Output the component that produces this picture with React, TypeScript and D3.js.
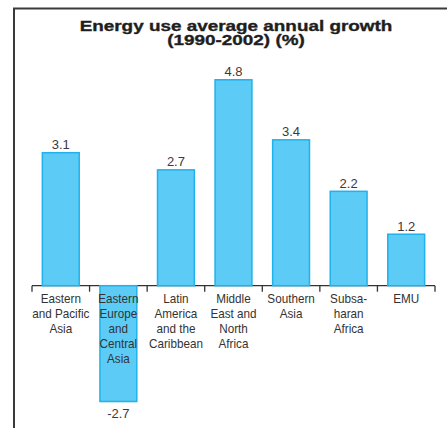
import React from "react";
import * as d3 from "d3";

const categories = [
  ["Eastern", "and Pacific", "Asia"],
  ["Eastern", "Europe", "and", "Central", "Asia"],
  ["Latin", "America", "and the", "Caribbean"],
  ["Middle", "East and", "North", "Africa"],
  ["Southern", "Asia"],
  ["Subsa-", "haran", "Africa"],
  ["EMU"],
];
const values = [3.1, -2.7, 2.7, 4.8, 3.4, 2.2, 1.2];
const valueLabels = ["3.1", "-2.7", "2.7", "4.8", "3.4", "2.2", "1.2"];
const titleLines = ["Energy use average annual growth", "(1990-2002) (%)"];

const W = 448;
const H = 428;
const left = 32;
const right = 435;
const zeroY = 285.7;
const unit = 42.9;

export default function App() {
  const keys = categories.map((_, i) => String(i));
  const x = d3
    .scaleBand<string>()
    .domain(keys)
    .range([left, right])
    .paddingInner(0.36)
    .paddingOuter(0.18);
  const y = d3
    .scaleLinear()
    .domain([-3, 5])
    .range([zeroY + 3 * unit, zeroY - 5 * unit]);
  const step = x.step();
  const y0 = y(0);
  const font = "'Liberation Sans', Arial, Helvetica, sans-serif";
  const tickXs = d3.range(keys.length + 1).map((i) => left + i * step);

  return (
    <svg
      width={W}
      height={H}
      style={{ position: "absolute", left: 0, top: 0, background: "#fff" }}
      fontFamily={font}
    >
      {/* frame */}
      <path d={`M14,${H} L14,8.5 L447,8.5`} fill="none" stroke="#3a3a3a" strokeWidth={2} />

      {/* title, set in a wide heavy face */}
      <g transform="translate(236,0) scale(1.26,1)">
        <text
          textAnchor="middle"
          fontWeight="bold"
          fontSize={15}
          fill="#1e1e1e"
          stroke="#1e1e1e"
          strokeWidth={0.35}
        >
          {titleLines.map((t, i) => (
            <tspan key={i} x={0} y={30.6 + i * 14.5}>
              {t}
            </tspan>
          ))}
        </text>
      </g>

      {/* axis */}
      <line x1={left} x2={right} y1={y0} y2={y0} stroke="#333" strokeWidth={1.3} />
      {tickXs.map((tx, i) => (
        <line key={i} x1={tx} x2={tx} y1={y0} y2={y0 + 6} stroke="#333" strokeWidth={1.3} />
      ))}

      {/* bars */}
      {values.map((v, i) => {
        const bx = x(keys[i])!;
        const top = Math.min(y(v), y0);
        const h = Math.abs(y(v) - y0);
        return (
          <rect
            key={i}
            x={bx}
            y={top}
            width={x.bandwidth()}
            height={h}
            fill="#5ccbf6"
            stroke="#1fb2ec"
            strokeWidth={1.5}
          />
        );
      })}

      {/* value labels */}
      {values.map((v, i) => {
        const cx = x(keys[i])! + x.bandwidth() / 2;
        const ly = v >= 0 ? y(v) - 3.5 : y(v) + 16;
        return (
          <text key={i} x={cx} y={ly} textAnchor="middle" fontSize={13} fill="#3a3a3a">
            {valueLabels[i]}
          </text>
        );
      })}

      {/* category labels, narrow setting */}
      {categories.map((lines, i) => {
        const cx = x(keys[i])! + x.bandwidth() / 2;
        return (
          <g key={i} transform={`translate(${cx},0) scale(0.9,1)`}>
            <text textAnchor="middle" fontSize={13} fill="#333">
              {lines.map((l, j) => (
                <tspan key={j} x={0} y={303.3 + j * 14.9}>
                  {l}
                </tspan>
              ))}
            </text>
          </g>
        );
      })}
    </svg>
  );
}
